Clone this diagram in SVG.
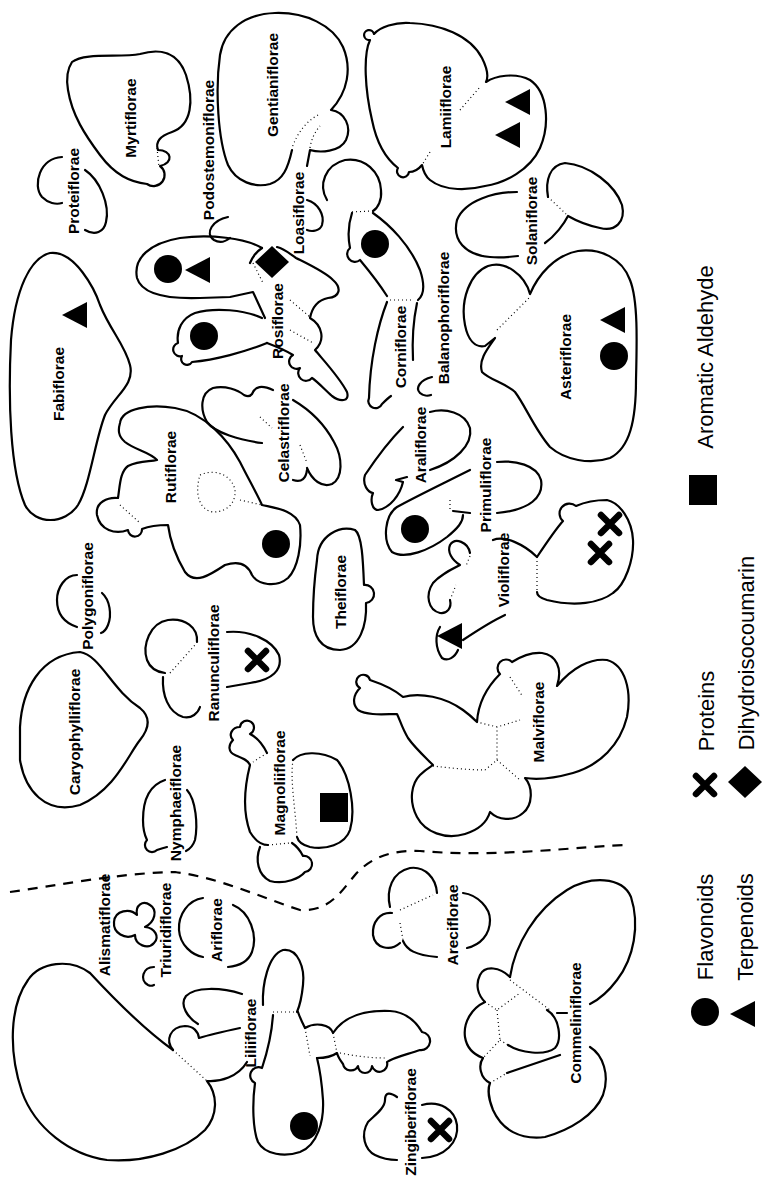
<svg xmlns="http://www.w3.org/2000/svg" width="763" height="1179" viewBox="0 0 763 1179">
<style>
.o{fill:none;stroke:#000;stroke-width:2.2;stroke-linecap:round;stroke-linejoin:round}
.d{fill:none;stroke:#000;stroke-width:1.2;stroke-dasharray:1 3}
.dash{fill:none;stroke:#000;stroke-width:2.2;stroke-dasharray:10 8}
.l{font-family:"Liberation Sans",Arial,sans-serif;font-weight:bold;font-size:15.5px;text-anchor:middle;dominant-baseline:central}
.g{font-family:"Liberation Sans",Arial,sans-serif;font-size:22px;text-anchor:middle;dominant-baseline:central}
</style>
<defs>
<circle id="dot" r="14"/>
<polygon id="tri" points="-13,0 12,-13 12,13"/>
<path id="xx" d="M-9,-9 L9,9 M9,-9 L-9,9" stroke="#000" stroke-width="6.5" stroke-linecap="round"/>
<polygon id="dia" points="0,-16 17,0 0,16 -17,0"/>
</defs>
<rect width="763" height="1179" fill="#fff"/>

<g id="divider">
<path class="dash" d="M10,892 C60,885 120,873 175,872 C220,878 260,897 300,910 C330,912 342,890 355,875 C370,858 390,850 420,851 C500,858 580,846 630,845"/>
</g>

<g id="myrtiflorae">
<path class="o" d="M72,62 C85,52 120,58 140,54 C160,48 178,52 186,75 C194,100 192,125 172,132 C160,136 155,142 158,150 C172,150 174,163 160,166 A8 8 0 1 1 147,184 C130,182 115,175 100,155 C85,135 72,115 68,90 C66,78 68,68 72,62 Z"/>
<path class="d" d="M157,148 L159,167"/>
<text class="l" transform="translate(130,118) rotate(-90)">Myrtiflorae</text>
</g>

<g id="proteiflorae">
<path class="o" d="M62,157 C40,158 32,185 42,197 C48,203 56,205 62,203"/>
<path class="o" d="M85,170 C100,180 110,205 106,222 C104,232 95,236 85,230"/>
<text class="l" transform="translate(73,191) rotate(-90)">Proteiflorae</text>
</g>

<g id="podostemoniflorae">
<path class="o" d="M228,217 C213,220 204,233 214,240 C219,243 225,242 230,238"/>
<text class="l" transform="translate(208,150) rotate(-90)">Podostemoniflorae</text>
</g>

<g id="gentianiflorae">
<path class="o" d="M307,166 L310,150 C320,153 340,152 346,140 C352,127 345,112 331,110 C348,92 352,68 343,47 C333,25 305,12 275,13 C245,14 224,30 220,55 C215,90 218,140 228,165 C236,182 255,188 270,184 C283,180 288,168 292,150"/>
<path class="d" d="M318,115 Q300,125 292,148 M310,148 Q312,135 320,126"/>
<text class="l" transform="translate(272,85) rotate(-90)">Gentianiflorae</text>
</g>

<g id="loasiflorae">
<path class="o" d="M307,200 C318,203 325,215 322,225 C320,231 312,232 307,230"/>
<text class="l" transform="translate(298,213) rotate(-90)">Loasiflorae</text>
</g>

<g id="lamiiflorae">
<path class="o" d="M374,34 C380,27 395,22 410,23 C440,24 470,35 482,58 C488,70 488,78 486,82 C495,76 515,72 530,80 C548,92 550,125 540,148 C530,170 505,183 485,186 C470,190 445,192 430,180 C425,176 423,170 422,165 C418,170 413,172 409,172 A6 6 0 1 1 398,168 C385,158 376,140 372,120 C365,90 363,55 370,40 A5 5 0 1 1 374,34 Z"/>
<path class="d" d="M460,110 L480,87 M430,152 L422,165"/>
<text class="l" transform="translate(445,107) rotate(-90)">Lamiiflorae</text>
<use href="#tri" x="518" y="102"/>
<use href="#tri" x="508" y="135"/>
</g>

<g id="solaniflorae">
<path class="o" d="M548,197 C545,180 550,165 565,163 C590,165 615,185 622,205 C626,222 615,232 600,228 C585,225 575,220 568,216 C564,224 555,236 545,243"/>
<path class="d" d="M548,197 L566,214"/>
<path class="o" d="M517,192 C495,192 465,200 457,220 C452,240 465,255 490,257 C500,258 510,257 518,256"/>
<text class="l" transform="translate(531,221) rotate(-90)">Solaniflorae</text>
</g>

<g id="corniflorae">
<path class="o" d="M327,200 C318,185 325,165 345,160 C365,157 380,172 381,190 C382,200 378,208 373,211"/>
<path class="d" d="M373,211 L350,212"/>
<path class="o" d="M352,213 C348,225 348,238 350,248 A5 5 0 1 0 360,260 C370,272 380,285 387,296"/>
<path class="o" d="M373,213 C390,225 410,245 420,270 C425,285 424,295 418,300"/>
<path class="d" d="M390,300 L412,300"/>
<path class="o" d="M387,302 C378,325 370,360 369,398 A6 6 0 1 0 382,404 C385,401 388,398 391,396"/>
<path class="o" d="M417,303 C413,322 412,340 413,360"/>
<text class="l" transform="translate(400,347) rotate(-90)">Corniflorae</text>
<use href="#dot" x="375" y="244"/>
</g>

<g id="balanophoriflorae">
<path class="o" d="M432,377 C420,380 415,388 420,393 C423,396 428,396 431,395"/>
<text class="l" transform="translate(443,318) rotate(-90)">Balanophoriflorae</text>
</g>

<g id="rosiflorae">
<path class="o" d="M262,248 C245,238 210,234 180,238 C150,243 133,258 137,278 C142,295 170,299 200,298 L230,297 L253,292 L265,318"/>
<path class="o" d="M262,318 C245,310 215,307 195,313 C182,318 176,330 178,343 A5 5 0 1 0 182,356 A5 5 0 1 0 192,362 C215,360 245,352 267,343"/>
<path class="o" d="M277,247 C285,249 290,254 296,258 C310,265 325,272 333,280 C342,288 340,297 328,298 C318,300 312,308 310,318 C322,325 326,340 315,350 C325,362 340,378 347,392 C350,402 340,402 332,396 C325,390 318,382 312,378 A6 6 0 1 1 300,368 A5 5 0 1 1 293,355 C285,350 275,346 267,343"/>
<path class="o" d="M262,248 C256,252 252,258 250,263"/>
<path class="d" d="M253,263 L263,283 M290,300 L310,317 M290,330 L313,343"/>
<text class="l" transform="translate(277,321) rotate(-90)">Rosiflorae</text>
<use href="#dot" x="168" y="269"/>
<use href="#tri" x="198" y="270"/>
<use href="#dia" x="272" y="262"/>
<use href="#dot" x="204" y="336"/>
</g>

<g id="fabiflorae">
<path class="o" d="M50,253 C30,258 15,290 11,340 C8,400 10,470 25,505 C35,525 65,525 78,505 C90,485 95,440 105,415 C115,395 135,385 130,365 C125,345 110,330 100,305 C95,290 75,250 50,253 Z"/>
<text class="l" transform="translate(58,384) rotate(-90)">Fabiflorae</text>
<use href="#tri" x="75" y="315"/>
</g>

<g id="rutiflorae">
<path class="o" d="M120,423 C122,408 150,404 175,408 C205,413 228,440 240,462 C248,478 256,492 262,505 C275,508 295,510 300,525 C302,545 298,568 288,578 C276,588 258,585 252,575 C248,565 240,560 225,565 C210,575 195,585 185,572 C175,555 170,540 168,525 C155,525 147,527 142,529 A7 7 0 1 1 128,530 C115,535 100,530 97,515 C95,502 108,497 118,498 C120,485 120,472 128,466 C140,460 150,462 157,460 C150,452 135,450 125,442 C118,436 118,430 120,423 Z"/>
<path class="d" d="M200,475 C215,468 232,475 235,490 C236,505 225,512 213,512 C200,510 194,495 200,475 M120,505 L140,523 M240,500 L262,505"/>
<text class="l" transform="translate(170,467) rotate(-90)">Rutiflorae</text>
<use href="#dot" x="276" y="544"/>
</g>

<g id="celastriflorae">
<path class="o" d="M273,390 C262,385 255,386 252,394 C249,398 246,396 244,395 C238,390 225,385 213,388 C200,393 200,410 207,422 C215,433 240,440 262,443"/>
<path class="o" d="M293,400 C310,410 325,425 334,442 C343,458 343,478 332,484 C322,488 312,480 307,468"/>
<path class="o" d="M293,480 C302,483 306,478 307,470"/>
<path class="d" d="M300,445 L307,463 M260,417 L272,428"/>
<text class="l" transform="translate(283,433) rotate(-90)">Celastriflorae</text>
</g>

<g id="araliflorae">
<path class="o" d="M403,427 C390,440 375,460 365,475 C362,485 368,492 373,493 C370,500 372,510 378,510 C390,508 400,495 403,482 L396,480 L407,477"/>
<path class="o" d="M430,412 C445,408 465,412 470,428 C473,445 455,462 430,470"/>
<text class="l" transform="translate(420,445) rotate(-90)">Araliflorae</text>
</g>

<g id="primuliflorae">
<path class="o" d="M470,470 C440,485 415,497 397,507 C385,515 382,540 392,552 C405,560 430,550 447,537 C458,528 463,522 463,515"/>
<path class="d" d="M450,500 L450,512"/>
<path class="o" d="M453,511 L470,513"/>
<path class="o" d="M497,462 C515,460 537,465 541,480 C544,497 530,510 497,513"/>
<text class="l" transform="translate(485,485) rotate(-90)">Primuliflorae</text>
<use href="#dot" x="415" y="529"/>
</g>

<g id="asteriflorae">
<path class="o" d="M530,294 C525,275 505,260 488,266 C470,273 460,300 465,325 C468,340 475,348 485,346 L495,338 C488,348 478,360 482,372 C490,380 505,383 515,392 C525,405 535,430 550,447 C565,460 590,465 610,458 C630,448 636,420 636,380 C637,340 638,300 630,280 C622,258 600,248 578,251 C555,255 538,275 530,294 Z"/>
<path class="d" d="M497,330 L530,297"/>
<text class="l" transform="translate(565,357) rotate(-90)">Asteriflorae</text>
<use href="#tri" x="613" y="320"/>
<use href="#dot" x="614" y="356"/>
</g>

<g id="theiflorae">
<path class="o" d="M317,560 C318,535 340,525 355,530 C362,535 363,560 364,585 A9 9 0 1 1 366,603 C367,625 360,649 340,650 C320,650 313,635 313,617 C313,595 315,575 317,560 Z"/>
<text class="l" transform="translate(340,592) rotate(-90)">Theiflorae</text>
</g>

<g id="violiflorae">
<path class="o" d="M470,553 C468,542 455,537 450,545 C447,552 452,560 460,565 C450,570 440,575 433,583 C425,595 428,610 440,613 C447,614 452,608 450,600"/>
<path class="d" d="M450,600 L456,585 M470,556 L466,566"/>
<path class="o" d="M440,627 C435,635 435,648 442,658 C448,662 455,657 458,650"/>
<path class="o" d="M463,640 C475,632 490,622 505,615"/>
<path class="o" d="M493,540 C505,535 525,545 537,557 C545,545 555,530 563,521 A7 7 0 1 1 576,506 C585,502 596,500 607,500 C620,503 632,520 633,540 C634,560 625,585 613,593 C600,603 575,607 547,600 C540,598 537,595 537,592"/>
<path class="d" d="M537,557 L537,592"/>
<text class="l" transform="translate(503,570) rotate(-90)">Violiflorae</text>
<use href="#tri" x="450" y="636"/>
<use href="#xx" x="610" y="524"/>
<use href="#xx" x="600" y="553"/>
</g>

<g id="malviflorae">
<path class="o" d="M360,688 A7 7 0 1 1 370,680 C385,685 395,690 403,697 C420,692 445,697 463,710 C470,715 474,719 477,722 C478,705 486,688 500,674 A7 7 0 1 1 512,662 C520,657 530,652 542,653 C556,655 563,668 557,686 C572,668 590,658 607,660 C625,665 632,690 627,717 C620,745 600,765 573,773 C555,778 538,780 525,778 C533,787 533,805 523,813 C513,822 498,820 490,812 C487,822 478,830 465,834 C445,840 425,832 417,817 C408,800 412,783 420,775 C425,770 430,767 433,765 C425,757 415,748 408,738 C402,728 400,720 397,714 C385,714 368,716 358,710 C352,704 353,695 360,688 Z"/>
<path class="d" d="M433,766 C450,768 470,770 485,770 M485,770 L497,760 L497,727 L520,720 M497,760 L520,780 M497,727 L477,722 M510,677 L523,697"/>
<text class="l" transform="translate(538,722) rotate(-90)">Malviflorae</text>
</g>

<g id="polygoniflorae">
<path class="o" d="M77,575 C65,575 57,588 57,600 C57,612 62,622 77,627"/>
<path class="o" d="M102,593 C110,600 112,615 108,625 C106,630 104,632 101,633"/>
<text class="l" transform="translate(87,596) rotate(-90)">Polygoniflorae</text>
</g>

<g id="caryophylliflorae">
<path class="o" d="M20,727 C22,690 40,655 80,652 C100,655 112,690 140,708 C152,718 148,730 140,740 C128,755 115,790 80,805 C45,815 25,790 20,760 Z"/>
<text class="l" transform="translate(74,732) rotate(-90)">Caryophylliflorae</text>
</g>

<g id="ranunculiflorae">
<path class="o" d="M197,642 C198,627 185,618 168,620 C150,623 142,645 147,660 C150,668 157,672 165,673"/>
<path class="o" d="M163,677 C162,695 168,712 183,717 C192,719 198,713 200,707"/>
<path class="d" d="M170,673 L195,645"/>
<path class="o" d="M227,632 C250,630 272,640 279,655 C283,670 272,680 250,683 C240,685 233,686 227,687"/>
<text class="l" transform="translate(213,663) rotate(-90)">Ranunculiflorae</text>
<use href="#xx" x="257" y="660"/>
</g>

<g id="nymphaeiflorae">
<path class="o" d="M165,780 C150,785 143,800 143,820 C143,830 145,836 147,840 A7 7 0 1 0 157,850 C160,849 163,848 167,847"/>
<path class="o" d="M187,790 C196,800 198,825 195,840 C193,846 190,849 186,851"/>
<text class="l" transform="translate(175,803) rotate(-90)">Nymphaeiflorae</text>
</g>

<g id="magnoliiflorae">
<path class="o" d="M267,753 C263,745 258,738 250,734 A7 7 0 1 0 240,727 C232,727 228,735 233,740 C228,745 228,752 235,755 C242,758 248,760 250,765 C245,785 242,810 250,832 C256,842 262,845 268,845"/>
<path class="d" d="M268,845 L290,843 M267,753 L253,762 M293,760 C290,780 295,805 297,837"/>
<path class="o" d="M260,847 C255,860 258,875 270,881 C285,885 300,878 305,872 A7 7 0 1 0 303,856 C300,850 295,845 292,843"/>
<path class="o" d="M293,760 C300,752 320,750 337,760 C350,775 356,810 350,830 C345,845 325,850 310,847 C302,845 298,841 297,837"/>
<text class="l" transform="translate(279,783) rotate(-90)">Magnoliiflorae</text>
<rect x="320" y="793" width="28" height="29"/>
</g>

<g id="alismatiflorae">
<text class="l" transform="translate(104,925) rotate(-90)">Alismatiflorae</text>
</g>

<g id="triuridiflorae">
<path class="o" d="M137,915 C130,908 115,910 114,922 C113,933 125,940 135,935 C135,945 148,950 154,943 C160,937 155,928 145,927 C155,922 158,910 150,905 C143,900 135,905 137,915 Z"/>
<path class="o" d="M154,967 C143,967 139,980 148,985 C150,986 152,986 154,985"/>
<text class="l" transform="translate(165,930) rotate(-90)">Triuridiflorae</text>
</g>

<g id="ariflorae">
<path class="o" d="M203,898 C188,900 178,915 179,930 C180,945 192,955 203,957"/>
<path class="o" d="M233,905 C250,912 258,935 252,952 C248,962 240,966 228,967"/>
<text class="l" transform="translate(216,930) rotate(-90)">Ariflorae</text>
</g>

<g id="liliiflorae">
<path class="o" d="M173,1050 C145,1030 115,1000 90,973 C70,958 40,962 28,980 C10,1005 8,1050 22,1092 C35,1128 70,1155 107,1160 C145,1163 185,1150 205,1130 C218,1115 218,1095 207,1081 C220,1082 238,1077 247,1062"/>
<path class="d" d="M173,1050 L207,1081"/>
<path class="o" d="M173,1050 C165,1040 170,1027 185,1026 C193,1026 198,1031 199,1038 C212,1034 226,1031 240,1028"/>
<path class="o" d="M242,994 C220,987 195,987 186,996 C179,1005 188,1018 198,1024"/>
<path class="o" d="M263,1005 C262,985 268,955 283,950 C298,948 305,968 303,985 C302,995 300,1005 297,1012"/>
<path class="d" d="M273,1012 L297,1012 M305,1028 L310,1056"/>
<path class="o" d="M273,1015 C272,1030 268,1050 262,1068 A6 6 0 1 0 255,1083 C252,1105 253,1130 258,1142 C265,1155 285,1157 300,1152 C318,1145 324,1120 323,1100 C322,1085 320,1070 317,1058"/>
<path class="o" d="M298,1012 C300,1018 303,1024 305,1028 C315,1022 330,1024 333,1033 C345,1015 365,1010 390,1011 C405,1012 415,1020 422,1032 A8 8 0 1 1 420,1050 C405,1055 392,1058 387,1062 A7 7 0 0 1 372,1066 A7 7 0 0 1 358,1066 A8 8 0 0 1 343,1064 C340,1060 338,1057 337,1053 C330,1058 320,1058 317,1058"/>
<path class="d" d="M333,1033 L337,1053 M340,1053 C355,1056 370,1058 385,1058"/>
<text class="l" transform="translate(250,1033) rotate(-90)">Liliiflorae</text>
<use href="#dot" x="304" y="1126"/>
</g>

<g id="areciflorae">
<path class="o" d="M390,907 C386,890 392,872 410,868 C425,866 436,878 437,893"/>
<path class="d" d="M400,910 L433,895 M400,923 L403,940"/>
<path class="o" d="M392,913 C380,912 372,922 373,935 C375,948 390,952 400,943"/>
<path class="o" d="M403,941 C407,950 415,955 437,957"/>
<path class="o" d="M463,893 C478,895 490,908 490,920 C490,935 480,945 467,948"/>
<text class="l" transform="translate(452,925) rotate(-90)">Areciflorae</text>
</g>

<g id="zingiberiflorae">
<path class="o" d="M397,1097 C390,1092 385,1092 385,1100 C385,1108 375,1115 368,1122 C360,1135 365,1150 375,1155 C383,1159 390,1160 397,1160"/>
<path class="o" d="M422,1105 C440,1100 455,1110 457,1125 C459,1142 445,1157 422,1158"/>
<text class="l" transform="translate(410,1122) rotate(-90)">Zingiberiflorae</text>
<use href="#xx" x="440" y="1130"/>
</g>

<g id="commeliniflorae">
<path class="o" d="M510,977 C515,945 535,910 567,890 C590,876 622,876 631,897 C640,925 634,958 617,980 C608,992 598,1000 590,1004"/>
<path class="o" d="M547,1010 C560,1018 562,1040 555,1048 C545,1056 520,1053 508,1045"/>
<path class="o" d="M557,1013 L567,1013 M560,1055 L507,1073"/>
<path class="o" d="M590,1047 C603,1055 610,1075 603,1095 C595,1115 570,1130 545,1137 C520,1140 502,1130 493,1110 C488,1098 488,1088 490,1083"/>
<path class="o" d="M510,977 C500,967 485,965 480,975 C475,985 478,995 485,1002 C472,1008 463,1022 465,1037 C467,1050 475,1055 483,1058 C478,1065 480,1078 490,1083"/>
<path class="d" d="M510,980 L550,1010 M485,1002 L497,1010 L520,993 M497,1010 L500,1040 L483,1058 M500,1040 L508,1045 M490,1083 L507,1073"/>
<text class="l" transform="translate(575,1023) rotate(-90)">Commeliniflorae</text>
</g>

<g id="legend">
<text class="g" transform="translate(705,357) rotate(-90)">Aromatic Aldehyde</text>
<rect x="689" y="475" width="28" height="30"/>
<text class="g" transform="translate(746,653) rotate(-90)">Dihydroisocoumarin</text>
<text class="g" transform="translate(706,711) rotate(-90)">Proteins</text>
<use href="#xx" x="705" y="785"/>
<use href="#dia" x="745" y="782"/>
<text class="g" transform="translate(705,927) rotate(-90)">Flavonoids</text>
<text class="g" transform="translate(745,927) rotate(-90)">Terpenoids</text>
<use href="#dot" x="705" y="1012"/>
<use href="#tri" x="743" y="1014"/>
</g>
</svg>
